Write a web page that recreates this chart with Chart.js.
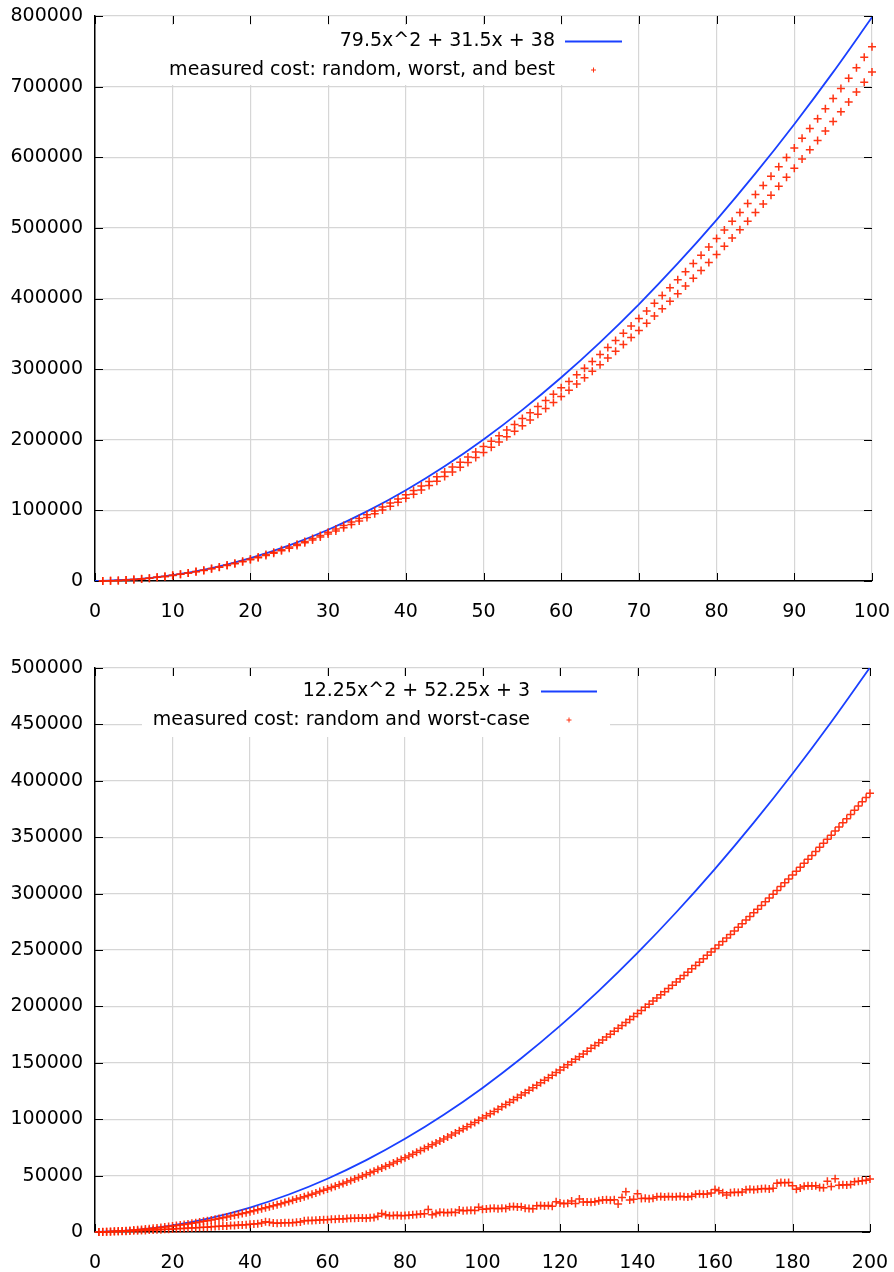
<!DOCTYPE html>
<html>
<head>
<meta charset="utf-8">
<script src="https://cdn.jsdelivr.net/npm/chart.js@4.4.1/dist/chart.umd.min.js"></script>
<style>
  html, body { margin: 0; padding: 0; background: #fff; }
  .panel { position: absolute; left: 0; width: 894px; height: 636px; }
</style>
</head>
<body>
<div class="panel" style="top:0"><canvas id="chartTop" width="894" height="636"></canvas></div>
<div class="panel" style="top:636px"><canvas id="chartBottom" width="894" height="636"></canvas></div>
<script>
// ---- top panel: 79.5x^2 fit vs measured worst / best ----
const topFitLabel = '79.5x^2 + 31.5x + 38';
const topPointLabel = 'measured cost: random, worst, and best';
const topFitX = [0, 5, 10, 15, 20, 25, 30, 35, 40, 45, 50, 55, 60, 65, 70, 75, 80, 85, 90, 95, 100];
const topFitY = [38, 2183, 8303, 18398, 32468, 50513, 72533, 98528, 128498, 162443, 200363,
  242258, 288128, 337973, 391793, 449588, 511358, 577103, 646823, 720518, 798188];
const topUpper = [121, 393, 815, 1387, 2110, 2983, 4007, 5181, 6505, 7980,
  9605, 11381, 13307, 15383, 17610, 19987, 22515, 25193, 28021, 31000,
  34129, 37409, 40839, 44419, 48150, 52031, 56063, 60245, 64577, 69060,
  73693, 78477, 83411, 88495, 93730, 99115, 104651, 110337, 116173, 122160,
  128297, 134585, 141023, 147611, 154350, 161239, 168279, 175469, 182809, 190300,
  197941, 205733, 213675, 221767, 230010, 238403, 246947, 255641, 264485, 273480,
  282625, 291921, 301367, 310963, 320710, 330607, 340655, 350853, 361201, 371700,
  382349, 393149, 404099, 415199, 426450, 437851, 449403, 461105, 472957, 484960,
  497113, 509417, 521871, 534475, 547230, 560135, 573191, 586397, 599753, 613260,
  626917, 640725, 654683, 668791, 683050, 697459, 712019, 726729, 741589, 756600];
const topLower = [147, 437, 870, 1445, 2163, 3023, 4026, 5171, 6459, 7890,
  9463, 11179, 13038, 15039, 17183, 19469, 21898, 24469, 27183, 30040,
  33039, 36181, 39466, 42893, 46463, 50175, 54030, 58027, 62167, 66450,
  70875, 75443, 80154, 85007, 90003, 95141, 100422, 105845, 111411, 117120,
  122971, 128965, 135102, 141381, 147803, 154367, 161074, 167923, 174915, 182050,
  189327, 196747, 204310, 212015, 219863, 227853, 235986, 244261, 252679, 261240,
  269943, 278789, 287778, 296909, 306183, 315599, 325158, 334859, 344703, 354690,
  364819, 375091, 385506, 396063, 406763, 417605, 428590, 439717, 450987, 462400,
  473955, 485653, 497494, 509477, 521603, 533871, 546282, 558835, 571531, 584370,
  597351, 610475, 623742, 637151, 650703, 664397, 678234, 692213, 706335, 720600];

// ---- bottom panel: 12.25x^2 fit vs measured random / worst-case ----
const botFitLabel = '12.25x^2 + 52.25x + 3';
const botPointLabel = 'measured cost: random and worst-case';
const botFitX = [0, 10, 20, 30, 40, 50, 60, 70, 80, 90, 100, 110, 120, 130, 140, 150, 160, 170, 180, 190, 200];
const botFitY = [3, 1751, 5948, 12596, 21693, 33241, 47238, 63686, 82583, 103931, 127728,
  153976, 182673, 213821, 247418, 283466, 321963, 362911, 406308, 452156, 500453];
const botWorst = [84, 187, 309, 450, 609, 787, 983, 1198, 1432, 1685,
  1956, 2246, 2555, 2883, 3229, 3594, 3977, 4379, 4800, 5240,
  5698, 6175, 6671, 7186, 7719, 8271, 8841, 9430, 10038, 10665,
  11310, 11974, 12657, 13359, 14079, 14818, 15575, 16351, 17146, 17960,
  18792, 19643, 20513, 21402, 22309, 23235, 24179, 25142, 26124, 27125,
  28144, 29182, 30239, 31315, 32409, 33522, 34653, 35803, 36972, 38160,
  39366, 40591, 41835, 43098, 44379, 45679, 46997, 48334, 49690, 51065,
  52458, 53870, 55301, 56751, 58219, 59706, 61211, 62735, 64278, 65840,
  67420, 69019, 70637, 72274, 73929, 75603, 77295, 79006, 80736, 82485,
  84252, 86038, 87843, 89667, 91509, 93370, 95249, 97147, 99064, 101000,
  102954, 104927, 106919, 108930, 110959, 113007, 115073, 117158, 119262, 121385,
  123526, 125686, 127865, 130063, 132279, 134514, 136767, 139039, 141330, 143640,
  145968, 148315, 150681, 153066, 155469, 157891, 160331, 162790, 165268, 167765,
  170280, 172814, 175367, 177939, 180529, 183138, 185765, 188411, 191076, 193760,
  196462, 199183, 201923, 204682, 207459, 210255, 213069, 215902, 218754, 221625,
  224514, 227422, 230349, 233295, 236259, 239242, 242243, 245263, 248302, 251360,
  254436, 257531, 260645, 263778, 266929, 270099, 273287, 276494, 279720, 282965,
  286228, 289510, 292811, 296131, 299469, 302826, 306201, 309595, 313008, 316440,
  319890, 323359, 326847, 330354, 333879, 337423, 340985, 344566, 348166, 351785,
  355422, 359078, 362753, 366447, 370159, 373890, 377639, 381407, 385194, 389000];
const botRandom = [0, 60, 150, 250, 350, 480, 600, 740, 880, 1020,
  1150, 1380, 1430, 1700, 1760, 2050, 2100, 2350, 2420, 2700,
  2800, 3100, 3150, 3450, 3500, 3800, 3900, 4250, 4250, 4600,
  4800, 5000, 5300, 5350, 5700, 5800, 6100, 6200, 6500, 6900,
  7000, 7300, 7900, 9100, 8600, 7900, 7800, 7900, 8100, 8200,
  8300, 8600, 8800, 9900, 10200, 10300, 10500, 10600, 10900, 10800,
  11200, 11400, 11800, 11600, 12000, 12300, 12100, 12500, 12400, 12300,
  12600, 12900, 14000, 16400, 15200, 14300, 14600, 14900, 14500, 14700,
  14800, 15300, 15600, 16000, 16200, 19900, 15300, 16500, 17400, 17200,
  17000, 17600, 17300, 19400, 18800, 19000, 19300, 19100, 21900, 20100,
  20300, 20900, 21000, 20700, 21000, 20800, 22300, 22500, 22200, 22400,
  21000, 20900, 20600, 23200, 23500, 23100, 23400, 22800, 26800, 25600,
  25100, 25400, 27400, 25300, 29200, 26500, 26700, 26400, 26800, 27600,
  28300, 28500, 28200, 28600, 24900, 30500, 35600, 28400, 29000, 34000,
  29700, 29900, 29500, 30000, 31200, 31400, 31000, 31500, 31300, 31200,
  31600, 31300, 31100, 31700, 33500, 33800, 33400, 33700, 34500, 37700,
  36600, 34700, 32800, 34900, 35300, 35000, 35400, 37500, 37800, 37400,
  37900, 38300, 38600, 38200, 38800, 43200, 43900, 43600, 43800, 40900,
  37800, 38900, 40600, 40900, 40700, 41000, 39400, 39200, 44900, 40300,
  47100, 41500, 41800, 41600, 42100, 44600, 45000, 45400, 45900, 46900];

const BLUE = '#1a40ff';
const RED = 'rgba(255, 36, 0, 0.92)';
const FONT = '"DejaVu Sans", "Lucida Grande", sans-serif';

const topN = Array.from({ length: topUpper.length }, (_, i) => i + 1);
const botN = Array.from({ length: botWorst.length }, (_, i) => i + 1);

function pairs(xs, ys) {
  return xs.map((x, i) => ({ x: x, y: ys[i] }));
}

// gnuplot-like key in the upper part of the plot, plus inward ticks on all four sides
const gnuKey = {
  id: 'gnuKey',
  beforeDatasetsDraw(chart, args, opts) {
    const ctx = chart.ctx;
    const area = chart.chartArea;
    const sets = chart.data.datasets;
    ctx.save();
    ctx.fillStyle = '#fff';
    ctx.fillRect(opts.box[0], opts.box[1], opts.box[2], opts.box[3]);

    ctx.strokeStyle = '#000';
    ctx.lineWidth = 1;
    ctx.beginPath();
    for (const t of chart.scales.x.ticks) {
      const px = Math.round(chart.scales.x.getPixelForValue(t.value)) + 0.5;
      ctx.moveTo(px, area.top); ctx.lineTo(px, area.top + 8);
      ctx.moveTo(px, area.bottom); ctx.lineTo(px, area.bottom - 8);
    }
    for (const t of chart.scales.y.ticks) {
      const py = Math.round(chart.scales.y.getPixelForValue(t.value)) + 0.5;
      ctx.moveTo(area.left, py); ctx.lineTo(area.left + 8, py);
      ctx.moveTo(area.right, py); ctx.lineTo(area.right - 8, py);
    }
    ctx.stroke();

    ctx.font = '19px ' + FONT;
    ctx.fillStyle = '#000';
    ctx.textAlign = 'right';
    ctx.textBaseline = 'middle';
    ctx.fillText(sets[0].label, opts.textRight, opts.rows[0]);
    ctx.fillText(sets[1].label, opts.textRight, opts.rows[1]);

    ctx.strokeStyle = BLUE;
    ctx.lineWidth = 1.8;
    ctx.beginPath();
    ctx.moveTo(opts.sample[0], opts.rows[0]);
    ctx.lineTo(opts.sample[1], opts.rows[0]);
    ctx.stroke();

    const cx = (opts.sample[0] + opts.sample[1]) / 2;
    ctx.strokeStyle = RED;
    ctx.lineWidth = 1;
    ctx.beginPath();
    ctx.moveTo(cx - 2.5, opts.rows[1]); ctx.lineTo(cx + 2.5, opts.rows[1]);
    ctx.moveTo(cx, opts.rows[1] - 2.5); ctx.lineTo(cx, opts.rows[1] + 2.5);
    ctx.stroke();
    ctx.restore();
  }
};

function axis(max, step, fitSize, horizontal) {
  return {
    type: 'linear',
    min: 0,
    max: max,
    ticks: {
      stepSize: step,
      autoSkip: false,
      maxRotation: 0,
      color: '#000',
      padding: horizontal ? 20 : 12,
      font: { family: FONT, size: 19 },
      callback: (v) => String(v)
    },
    grid: { color: '#d6d6d6', lineWidth: 1.2, drawTicks: false },
    border: { display: true, color: '#000', width: 1.5 },
    afterFit: (s) => {
      if (horizontal) s.height = fitSize; else s.width = fitSize;
      // the plot area is set by layout padding only, labels may overhang
      s.paddingLeft = 0; s.paddingRight = 0; s.paddingTop = 0; s.paddingBottom = 0;
    }
  };
}

function makeChart(id, fitLabel, fitData, pointLabel, pointData, xMax, xStep, yMax, yStep, pad, xHeight, key) {
  return new Chart(document.getElementById(id), {
    type: 'scatter',
    data: {
      datasets: [
        {
          label: fitLabel,
          data: fitData,
          showLine: true,
          borderColor: BLUE,
          borderWidth: 1.8,
          pointRadius: 0,
          cubicInterpolationMode: 'monotone',
          fill: false,
          order: 2
        },
        {
          label: pointLabel,
          data: pointData,
          pointStyle: 'cross',
          pointRadius: 4,
          borderColor: RED,
          backgroundColor: RED,
          borderWidth: 1.5,
          clip: false,
          order: 1
        }
      ]
    },
    options: {
      responsive: false,
      animation: false,
      devicePixelRatio: 1,
      layout: { padding: pad },
      plugins: { legend: { display: false }, tooltip: { enabled: false }, gnuKey: key },
      scales: {
        x: axis(xMax, xStep, xHeight, true),
        y: axis(yMax, yStep, 95, false)
      }
    },
    plugins: [gnuKey]
  });
}

makeChart('chartTop', topFitLabel, pairs(topFitX, topFitY), topPointLabel,
  pairs(topN, topUpper).concat(pairs(topN, topLower)),
  100, 10, 800000, 100000,
  { top: 16, right: 22, left: 0, bottom: 0 }, 55,
  { box: [158, 25, 472, 60], textRight: 555, rows: [41.5, 70], sample: [565, 622] });

makeChart('chartBottom', botFitLabel, pairs(botFitX, botFitY), botPointLabel,
  pairs(botN, botWorst).concat(pairs(botN, botRandom)),
  200, 20, 500000, 50000,
  { top: 32, right: 24, left: 0, bottom: 0 }, 40,
  { box: [142, 40, 468, 61], textRight: 530, rows: [55.5, 84], sample: [541, 597] });
</script>
</body>
</html>
